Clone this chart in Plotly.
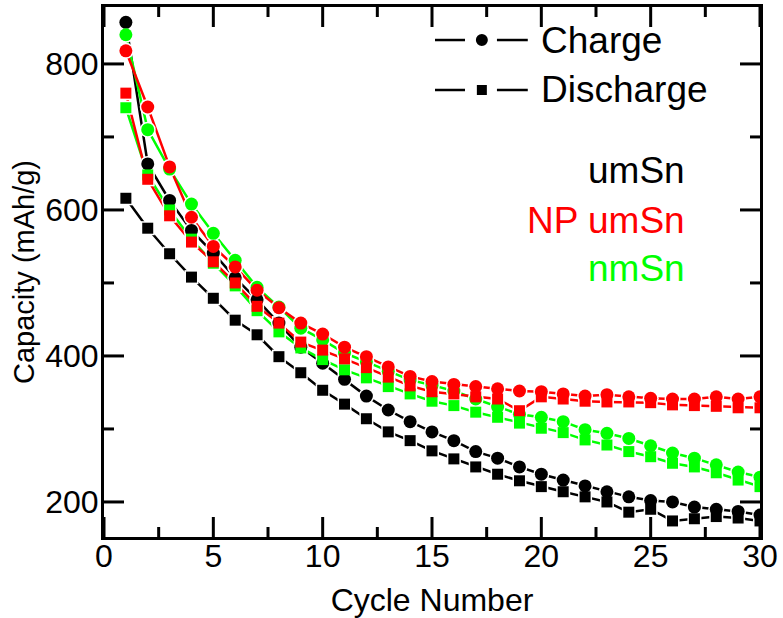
import plotly.graph_objects as go

cycles = list(range(1, 31))

umsn_charge = [857, 663, 613, 572, 541, 507, 477, 445, 412, 390, 368, 345, 326, 310, 296,
               284, 269, 260, 248, 238, 230, 222, 214, 207, 202, 200, 193, 190, 187, 182]
umsn_discharge = [616, 575, 540, 508, 479, 449, 429, 399, 377, 353, 334, 314, 296, 284, 270,
                  259, 248, 238, 229, 221, 214, 207, 200, 186, 190, 174, 177, 180, 178, 174]

np_charge = [818, 741, 659, 590, 550, 522, 490, 466, 445, 430, 412, 399, 385, 372, 365,
             361, 358, 355, 352, 351, 348, 345, 347, 344, 342, 341, 341, 344, 341, 344]
np_discharge = [760, 642, 592, 556, 529, 500, 468, 445, 419, 408, 396, 384, 371, 359, 351,
                348, 344, 341, 325, 344, 341, 338, 337, 337, 336, 333, 332, 331, 329, 329]

nm_charge = [840, 710, 656, 608, 568, 531, 494, 467, 438, 422, 404, 392, 379, 367, 360,
             352, 341, 330, 320, 316, 310, 299, 294, 287, 277, 267, 260, 251, 241, 234]
nm_discharge = [740, 648, 600, 560, 527, 496, 462, 433, 411, 395, 381, 370, 358, 348, 338,
                332, 323, 316, 308, 301, 295, 285, 278, 269, 262, 253, 248, 240, 230, 221]

sample_names = ["umSn", "NP umSn", "nmSn"]
legend_names = ["Charge", "Discharge"]

x_major_ticks = [0, 5, 10, 15, 20, 25, 30]
x_minor_ticks = [2.5, 7.5, 12.5, 17.5, 22.5, 27.5]
y_major_ticks = [200, 400, 600, 800]
y_minor_ticks = [300, 500, 700]

BLACK = "#000000"
RED = "#ff0000"
GREEN = "#00ff00"

series = [
    (BLACK, umsn_charge, umsn_discharge),
    (GREEN, nm_charge, nm_discharge),
    (RED, np_charge, np_discharge),
]

CIRCLE = 13
SQUARE = 11
GAP = 3

W, H = 783, 618
M = dict(l=104, r=23, t=7, b=81)
XR = [0, 30]
YR = [152, 878]

fig = go.Figure()

for color, ch, dis in series:
    for vals in (ch, dis):
        fig.add_trace(go.Scatter(x=cycles, y=vals, mode="lines",
                                 line=dict(color=color, width=2.5),
                                 showlegend=False, hoverinfo="skip"))
for color, ch, dis in series:
    for vals, sym, size in ((ch, "circle", CIRCLE), (dis, "square", SQUARE)):
        fig.add_trace(go.Scatter(x=cycles, y=vals, mode="markers",
                                 marker=dict(symbol=sym, size=size + GAP, color="white",
                                             line=dict(width=0)),
                                 showlegend=False, hoverinfo="skip"))
for color, ch, dis in series:
    for vals, sym, size in ((ch, "circle", CIRCLE), (dis, "square", SQUARE)):
        fig.add_trace(go.Scatter(x=cycles, y=vals, mode="markers",
                                 marker=dict(symbol=sym, size=size, color=color,
                                             line=dict(width=0)),
                                 showlegend=False))

# inward tick marks on all four sides (lengths given in pixels, converted to axis units)
x_per_px = (XR[1] - XR[0]) / (W - M["l"] - M["r"])
y_per_px = (YR[1] - YR[0]) / (H - M["t"] - M["b"])
tx, ty = [], []
for ticks, length in ((x_major_ticks, 20), (x_minor_ticks, 10)):
    dy = length * y_per_px
    for t in ticks:
        tx += [t, t, None, t, t, None]
        ty += [YR[0], YR[0] + dy, None, YR[1], YR[1] - dy, None]
for ticks, length in ((y_major_ticks, 20), (y_minor_ticks, 10)):
    dx = length * x_per_px
    for t in ticks:
        tx += [XR[0], XR[0] + dx, None, XR[1], XR[1] - dx, None]
        ty += [t, t, None, t, t, None]
fig.add_trace(go.Scatter(x=tx, y=ty, mode="lines", line=dict(color="black", width=3),
                         showlegend=False, hoverinfo="skip", connectgaps=False))

FONT = "Liberation Sans, Arial, sans-serif"

fig.update_xaxes(range=XR, tickvals=x_major_ticks,
                 showline=True, linewidth=3, linecolor="black", mirror=True,
                 ticks="", showgrid=False, zeroline=False, automargin=False,
                 ticklabelstandoff=-11,
                 tickfont=dict(family=FONT, size=32, color="black"),
                 title=dict(text="Cycle Number", font=dict(family=FONT, size=32, color="black")))
fig.update_yaxes(range=YR, tickvals=y_major_ticks,
                 showline=True, linewidth=3, linecolor="black", mirror=True,
                 ticks="", showgrid=False, zeroline=False, automargin=False,
                 ticklabelstandoff=-4,
                 tickfont=dict(family=FONT, size=32, color="black"),
                 title=dict(text="Capacity (mAh/g)", font=dict(family=FONT, size=29, color="black")))

shapes = []
annotations = []
legend_rows = [(0.9377, "circle", 12), (0.8434, "square", 10)]
for (yp, sym, sz), label in zip(legend_rows, legend_names):
    for x0, x1 in ((0.5046, 0.5503), (0.599, 0.646)):
        shapes.append(dict(type="line", xref="paper", yref="paper", x0=x0, x1=x1, y0=yp, y1=yp,
                           line=dict(color="black", width=2.5)))
    shapes.append(dict(type="circle" if sym == "circle" else "rect",
                       xref="paper", yref="paper", xsizemode="pixel", ysizemode="pixel",
                       xanchor=0.576, yanchor=yp,
                       x0=-sz / 2, x1=sz / 2, y0=-sz / 2, y1=sz / 2,
                       fillcolor="black", line=dict(width=0)))
    annotations.append(dict(text=label, xref="paper", yref="paper", x=0.663, y=yp,
                            xanchor="left", yanchor="middle", showarrow=False,
                            font=dict(family=FONT, size=37, color="black")))

for name, color, yp in zip(sample_names, [BLACK, RED, GREEN], [0.6906, 0.598, 0.5075]):
    annotations.append(dict(text=name, xref="paper", yref="paper", x=0.889, y=yp,
                            xanchor="right", yanchor="middle", showarrow=False,
                            font=dict(family=FONT, size=37, color=color)))

fig.update_layout(
    template="none",
    width=W, height=H,
    margin=dict(**M, autoexpand=False),
    paper_bgcolor="white", plot_bgcolor="white",
    font=dict(family=FONT, color="black"),
    showlegend=False,
    shapes=shapes, annotations=annotations,
)

fig.write_html("out.html", config={"displayModeBar": False},
               post_script="document.body.style.margin='0px';")
